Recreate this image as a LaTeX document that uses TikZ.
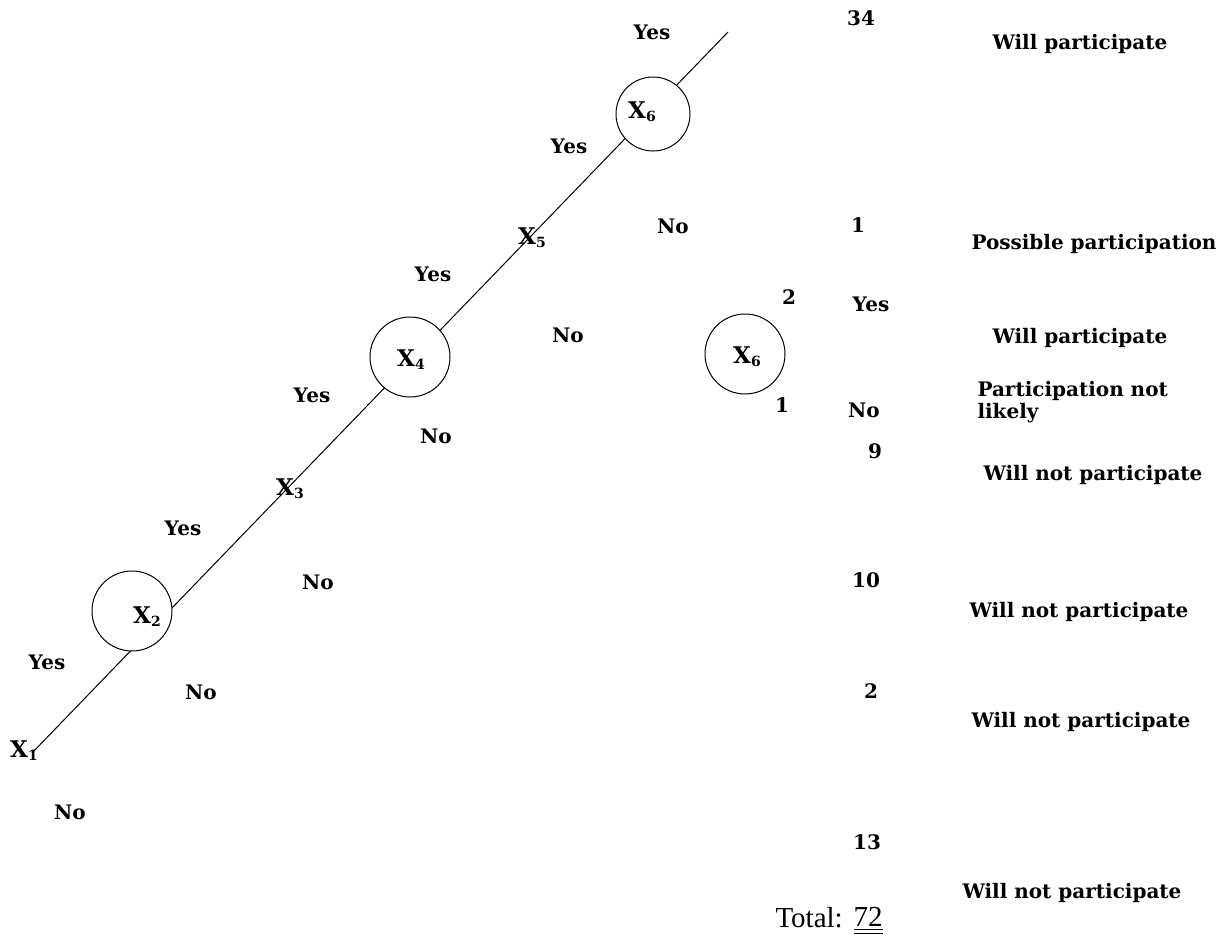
\documentclass[tikz,border=0pt]{standalone}
\usepackage{fontspec}
\setmainfont{DejaVu Serif}
\newfontfamily\totfont{Liberation Serif}
\usepackage{tikz}

\newcommand{\xsub}[1]{{\fontsize{11.5}{12}\selectfont X}\raisebox{-0.3ex}{\fontsize{7}{8}\selectfont #1}}

\begin{document}
\begin{tikzpicture}[x=0.5pt, y=-0.5pt, line width=0.5pt,
	lbl/.style={font=\bfseries\fontsize{10}{11}\selectfont, inner sep=0pt},
	res/.style={lbl, anchor=west, align=left},
	split/.style={draw, circle, fill=white, minimum size=40pt, inner sep=0pt}]
	\useasboundingbox (0,0) rectangle (1222,948);

	% Stem
	\coordinate (root) at (32,753);
	\coordinate (tip) at (728,32);
	\draw (root) -- (tip); % one straight stem, hidden inside the circles

	% Circles
	\node[split] (C2) at (132,611) {};
	\node[split] (C4) at (410,357) {};
	\node[split, minimum size=37pt] (C6) at (653,114) {};
	\node[split] (C6b) at (745,354) {};

	% Variables
	\node[lbl] (X1) at (24,751) {\xsub{1}};
	\node[lbl] (X2) at (147,617) {\xsub{2}};
	\node[lbl] (X3) at (290,489) {\xsub{3}};
	\node[lbl] (X4) at (411,360) {\xsub{4}};
	\node[lbl] (X5) at (532,238) {\xsub{5}};
	\node[lbl] (X6) at (642,112) {\xsub{6}};
	\node[lbl] (X6b) at (747,357) {\xsub{6}};

	% Yes / No
	\node[lbl] (y1) at (47,662) {Yes};
	\node[lbl] (n1) at (70,812) {No};
	\node[lbl] (y2) at (183,528) {Yes};
	\node[lbl] (n2) at (201,692) {No};
	\node[lbl] (y3) at (312,395) {Yes};
	\node[lbl] (n3) at (318,582) {No};
	\node[lbl] (y4) at (433,274) {Yes};
	\node[lbl] (n4) at (436,436) {No};
	\node[lbl] (y5) at (569,146) {Yes};
	\node[lbl] (n5) at (568,335) {No};
	\node[lbl] (y6) at (652,32) {Yes};
	\node[lbl] (n6) at (673,226) {No};
	\node[lbl] (two) at (789,297) {2};
	\node[lbl] (one) at (782,405) {1};
	\node[lbl] (y6b) at (871,304) {Yes};
	\node[lbl] (n6b) at (864,410) {No};

	% Counts
	\node[lbl] (k34) at (861,18) {34};
	\node[lbl] (k1) at (858,225) {1};
	\node[lbl] (k9) at (875,451) {9};
	\node[lbl] (k10) at (866,580) {10};
	\node[lbl] (k2) at (871,691) {2};
	\node[lbl] (k13) at (867,842) {13};

	% Outcomes
	\node[res] (o1) at (992,44) {Will participate};
	\node[res] (o2) at (971,244) {Possible participation};
	\node[res] (o3) at (992,338) {Will participate};
	\node[res] (o4) at (977,402) {Participation not\\likely};
	\node[res] (o5) at (983,475) {Will not participate};
	\node[res] (o6) at (969,612) {Will not participate};
	\node[res] (o7) at (971,722) {Will not participate};
	\node[res] (o8) at (962,893) {Will not participate};

	% Total
	\node[font=\totfont\fontsize{14.5}{16}\selectfont, anchor=west, inner sep=0pt] (total) at (775,918) {Total:};
	\node[font=\totfont\fontsize{14.5}{16}\selectfont, inner sep=0pt] (sum) at (868,921) {\underline{\underline{72}}};
\end{tikzpicture}
\end{document}
